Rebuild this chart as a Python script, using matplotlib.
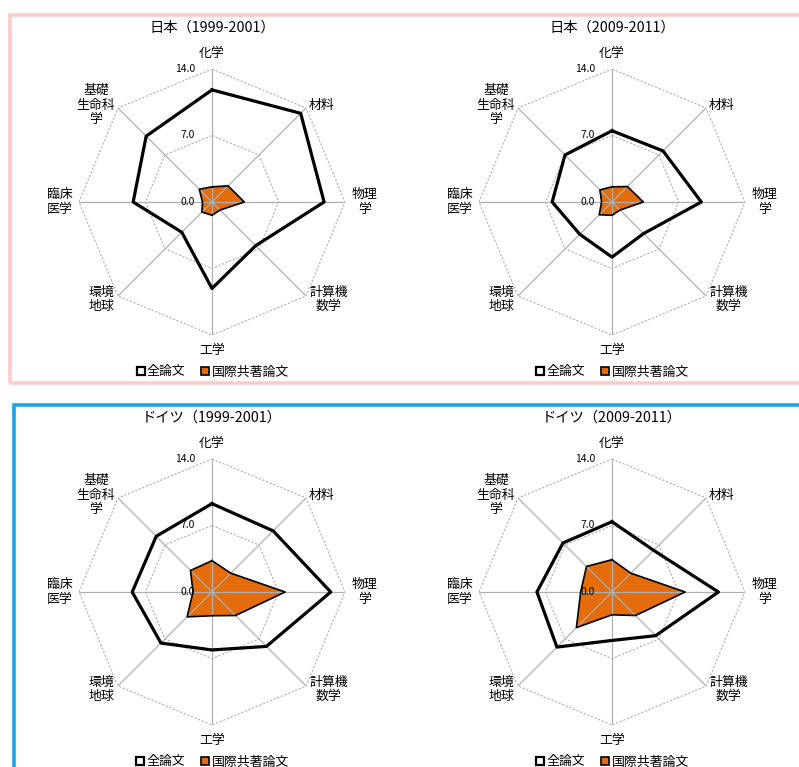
import numpy as np
import matplotlib
matplotlib.use('Agg')
import matplotlib.pyplot as plt
from matplotlib.lines import Line2D
from matplotlib.patches import Rectangle

plt.rcParams['font.family'] = ['Noto Sans CJK JP', 'DejaVu Sans']

# categories, clockwise from the top
categories = ['化学', '材料', '物理\n学', '計算機\n数学', '工学', '環境\n地球', '臨床\n医学', '基礎\n生命科\n学']
ticks = [0.0, 7.0, 14.0]
series_names = ['全論文', '国際共著論文']

titles = ['日本（1999-2001）', '日本（2009-2011）', 'ドイツ（1999-2001）', 'ドイツ（2009-2011）']

jp_9901_all = [11.8, 13.2, 11.8, 6.5, 9.1, 4.5, 8.3, 9.8]
jp_9901_intl = [1.6, 2.4, 3.4, 1.2, 1.4, 1.5, 1.0, 1.9]
jp_0911_all = [7.5, 7.6, 9.4, 4.7, 5.8, 4.8, 6.3, 7.0]
jp_0911_intl = [1.6, 2.3, 3.3, 1.2, 1.4, 1.9, 1.1, 1.8]
de_9901_all = [9.3, 9.1, 12.5, 8.1, 6.1, 7.6, 8.4, 8.3]
de_9901_intl = [3.3, 2.8, 7.7, 3.5, 2.5, 3.7, 2.0, 3.2]
de_0911_all = [7.4, 6.2, 11.2, 6.5, 5.1, 8.2, 7.9, 7.3]
de_0911_intl = [3.4, 2.8, 7.7, 3.5, 2.4, 5.3, 3.3, 3.8]

ORANGE = '#E46C0A'
GRID = '#b0b0b0'

W, H = 799, 767
fig = plt.figure(figsize=(W / 100, H / 100), dpi=100)

# frames around the two rows
fig.patches.append(Rectangle((9.5 / W, 1 - 383 / H), 800 / W, 368 / H, transform=fig.transFigure,
                             fill=False, ec='#FFCACA', lw=2.6))
fig.patches.append(Rectangle((13.5 / W, -0.05), 800 / W, 1 - 404.5 / H + 0.05, transform=fig.transFigure,
                             fill=False, ec='#16A6E8', lw=2.6))

n = len(categories)
angles = np.linspace(0, 2 * np.pi, n, endpoint=False)
ang_closed = np.append(angles, angles[0])

# label placement (radius, ha)
lab_r = [15.7, 14.4, 14.7, 14.5, 15.6, 14.5, 14.7, 14.4]
lab_ha = ['center', 'left', 'left', 'left', 'center', 'right', 'right', 'right']


def radar(ax, title, all_vals, intl_vals):
    ax.set_theta_zero_location('N')
    ax.set_theta_direction(-1)
    ax.set_ylim(0, 14)
    ax.grid(False)
    ax.set_xticks([])
    ax.set_yticks([])
    ax.spines['polar'].set_visible(False)
    ax.patch.set_visible(False)

    v = np.append(intl_vals, intl_vals[0])
    ax.fill(ang_closed, v, color=ORANGE, zorder=1, lw=0)

    # octagon rings and spokes
    for t in ticks[1:]:
        ax.plot(ang_closed, [t] * (n + 1), color=GRID, lw=0.8, ls=(0, (2, 1.5)), zorder=2)
    for a in angles:
        ax.plot([a, a], [0, 14], color=GRID, lw=0.9, zorder=2)

    ax.plot(ang_closed, v, color='black', lw=1.2, zorder=3)
    a_v = np.append(all_vals, all_vals[0])
    ax.plot(ang_closed, a_v, color='black', lw=2.3, zorder=4)

    for t in ticks:
        ax.annotate('%.1f' % t, xy=(0, t), xytext=(-17, 0), textcoords='offset pixels',
                    ha='right', va='center', fontsize=7.5, zorder=5)

    for a, lab, r, ha in zip(angles, categories, lab_r, lab_ha):
        ax.text(a, r, lab, ha=ha, va='center', multialignment='center', fontsize=9.3, linespacing=1.15)

    ax.text(0.5, 1.156, title, transform=ax.transAxes, ha='center', va='center', fontsize=10.3)

    handles = [Line2D([], [], marker='s', ls='', mfc='white', mec='black', mew=1.6, ms=6),
               Line2D([], [], marker='s', ls='', mfc=ORANGE, mec='black', mew=1.2, ms=6)]
    ax.legend(handles, series_names, loc='center', bbox_to_anchor=(0.5, -0.139), ncol=2,
              frameon=False, fontsize=9.3, handlelength=0.8, handletextpad=0.1,
              columnspacing=1.1, borderaxespad=0)


centers = [(212, 202), (612, 202), (212, 592), (612, 592)]
data = [(jp_9901_all, jp_9901_intl), (jp_0911_all, jp_0911_intl),
        (de_9901_all, de_9901_intl), (de_0911_all, de_0911_intl)]
R = 133
for (cx, cy), title, (a_vals, i_vals) in zip(centers, titles, data):
    ax = fig.add_axes([(cx - R) / W, (H - cy - R) / H, 2 * R / W, 2 * R / H], projection='polar')
    radar(ax, title, a_vals, i_vals)

fig.savefig('out.png', dpi=100)
